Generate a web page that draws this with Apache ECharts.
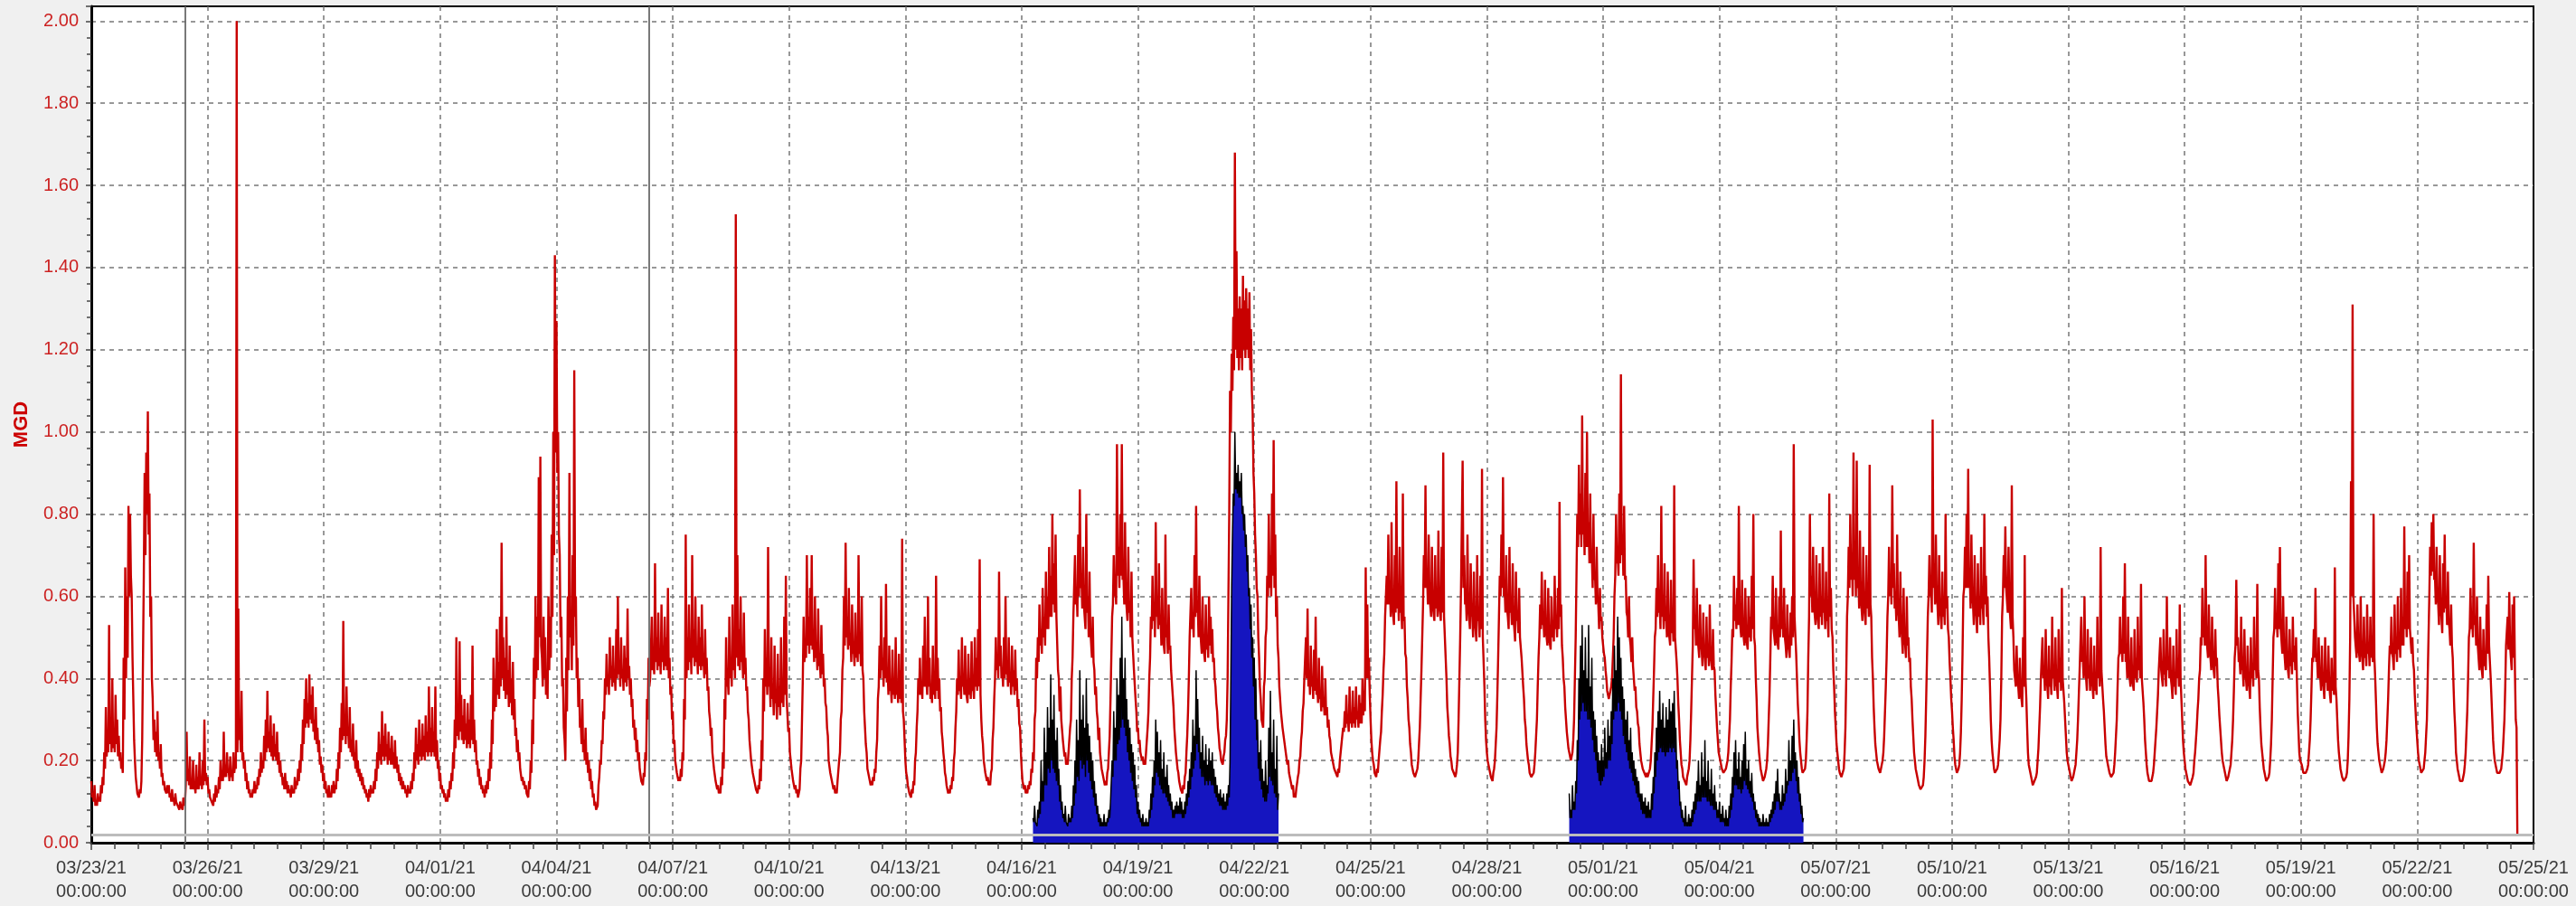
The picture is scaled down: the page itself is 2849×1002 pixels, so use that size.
<!DOCTYPE html>
<html>
<head>
<meta charset="utf-8">
<script src="https://cdn.jsdelivr.net/npm/echarts@6/dist/echarts.min.js"></script>
<style>
html,body{margin:0;padding:0;background:#f0f0f0;}
#chart{width:2849px;height:1002px;}
</style>
</head>
<body>
<div id="chart"></div>
<script>
// ---------------- DATA ----------------
const seriesStart = '03/23/21 00:00';
const xTickLabels = ['03/23/21','03/26/21','03/29/21','04/01/21','04/04/21','04/07/21','04/10/21','04/13/21',
  '04/16/21','04/19/21','04/22/21','04/25/21','04/28/21','05/01/21','05/04/21','05/07/21','05/10/21',
  '05/13/21','05/16/21','05/19/21','05/22/21','05/25/21'];
const xTickTime = '00:00:00';
const yTickLabels = ['0.00','0.20','0.40','0.60','0.80','1.00','1.20','1.40','1.60','1.80','2.00'];
const yAxisName = 'MGD';

// Flow (MGD) readings on the hour, one row per day starting 03/23/21
const flowByDay = [
[0.15,0.12,0.14,0.10,0.12,0.11,0.14,0.16,0.22,0.33,0.25,0.53,0.30,0.40,0.27,0.36,0.30,0.26,0.22,0.19,0.45,0.67,0.60,0.82],
[0.80,0.60,0.35,0.20,0.14,0.12,0.13,0.15,0.45,0.90,0.95,1.05,0.85,0.60,0.35,0.30,0.27,0.32,0.22,0.24,0.17,0.15,0.13,0.14],
[0.14,0.12,0.13,0.11,0.12,0.10,0.09,0.10,0.09,0.11,0.10,0.27,0.18,0.21,0.15,0.20,0.14,0.19,0.16,0.22,0.15,0.20,0.30,0.17],
[0.16,0.13,0.11,0.10,0.12,0.14,0.13,0.16,0.20,0.17,0.27,0.19,0.22,0.18,0.21,0.17,0.22,0.19,2.00,0.57,0.30,0.37,0.22,0.20],
[0.17,0.15,0.13,0.12,0.13,0.15,0.14,0.16,0.18,0.22,0.20,0.26,0.30,0.37,0.27,0.31,0.26,0.29,0.24,0.27,0.22,0.20,0.17,0.16],
[0.17,0.15,0.14,0.13,0.14,0.13,0.16,0.15,0.18,0.20,0.24,0.30,0.35,0.40,0.34,0.41,0.36,0.38,0.30,0.33,0.28,0.25,0.21,0.19],
[0.17,0.15,0.13,0.14,0.12,0.14,0.15,0.14,0.18,0.22,0.28,0.34,0.54,0.30,0.38,0.28,0.33,0.25,0.29,0.22,0.25,0.20,0.18,0.17],
[0.16,0.14,0.13,0.12,0.13,0.14,0.13,0.15,0.18,0.22,0.27,0.24,0.32,0.26,0.29,0.24,0.27,0.23,0.26,0.22,0.25,0.21,0.19,0.17],
[0.16,0.15,0.14,0.13,0.14,0.13,0.15,0.17,0.22,0.28,0.24,0.30,0.25,0.29,0.26,0.31,0.27,0.38,0.28,0.33,0.27,0.38,0.25,0.20],
[0.17,0.14,0.13,0.12,0.11,0.13,0.15,0.17,0.22,0.30,0.50,0.33,0.49,0.36,0.31,0.35,0.29,0.34,0.30,0.36,0.48,0.30,0.25,0.20],
[0.18,0.16,0.14,0.13,0.14,0.15,0.18,0.22,0.30,0.45,0.40,0.52,0.44,0.55,0.73,0.50,0.45,0.55,0.42,0.48,0.40,0.44,0.35,0.28],
[0.25,0.22,0.18,0.16,0.15,0.14,0.12,0.15,0.20,0.30,0.45,0.60,0.55,0.89,0.94,0.45,0.55,0.50,0.40,0.60,0.55,0.75,1.00,1.43],
[1.27,1.00,0.70,0.55,0.40,0.25,0.45,0.60,0.90,0.55,0.70,1.15,0.60,0.45,0.40,0.30,0.35,0.25,0.28,0.22,0.20,0.18,0.15,0.12],
[0.10,0.08,0.14,0.20,0.25,0.32,0.40,0.46,0.40,0.50,0.43,0.48,0.41,0.52,0.60,0.44,0.50,0.42,0.48,0.45,0.57,0.43,0.40,0.35],
[0.30,0.28,0.25,0.22,0.18,0.15,0.17,0.22,0.35,0.45,0.40,0.55,0.45,0.68,0.50,0.56,0.47,0.58,0.48,0.55,0.50,0.62,0.45,0.38],
[0.32,0.25,0.20,0.17,0.16,0.18,0.22,0.35,0.75,0.50,0.58,0.48,0.70,0.52,0.60,0.47,0.55,0.50,0.58,0.45,0.52,0.45,0.38,0.30],
[0.28,0.22,0.18,0.15,0.14,0.13,0.16,0.22,0.35,0.50,0.40,0.55,0.45,0.58,0.48,1.53,0.70,0.52,0.60,0.47,0.56,0.45,0.38,0.30],
[0.25,0.20,0.17,0.15,0.13,0.14,0.18,0.25,0.40,0.52,0.45,0.72,0.40,0.50,0.38,0.48,0.35,0.46,0.38,0.50,0.40,0.55,0.65,0.35],
[0.28,0.22,0.18,0.15,0.14,0.13,0.12,0.18,0.30,0.55,0.48,0.70,0.55,0.62,0.70,0.52,0.60,0.48,0.57,0.45,0.53,0.46,0.40,0.33],
[0.26,0.20,0.17,0.15,0.14,0.13,0.15,0.20,0.30,0.42,0.60,0.73,0.55,0.62,0.50,0.58,0.47,0.56,0.50,0.70,0.48,0.60,0.40,0.28],
[0.22,0.18,0.16,0.15,0.16,0.18,0.22,0.35,0.48,0.60,0.45,0.50,0.63,0.42,0.48,0.38,0.47,0.40,0.50,0.38,0.46,0.42,0.74,0.30],
[0.20,0.16,0.14,0.12,0.13,0.15,0.20,0.28,0.40,0.45,0.38,0.48,0.55,0.40,0.60,0.45,0.38,0.48,0.40,0.65,0.45,0.40,0.33,0.25],
[0.20,0.16,0.14,0.13,0.14,0.16,0.20,0.28,0.40,0.47,0.38,0.50,0.40,0.48,0.37,0.46,0.40,0.49,0.38,0.50,0.45,0.52,0.69,0.30],
[0.24,0.20,0.17,0.16,0.15,0.17,0.25,0.35,0.50,0.45,0.66,0.48,0.42,0.50,0.60,0.44,0.50,0.40,0.48,0.42,0.47,0.40,0.35,0.28],
[0.18,0.15,0.14,0.13,0.14,0.15,0.18,0.22,0.30,0.45,0.50,0.58,0.52,0.62,0.55,0.66,0.60,0.72,0.65,0.80,0.68,0.75,0.55,0.40],
[0.38,0.30,0.25,0.22,0.20,0.22,0.28,0.40,0.55,0.70,0.62,0.75,0.86,0.65,0.72,0.58,0.80,0.60,0.66,0.52,0.55,0.42,0.38,0.30],
[0.28,0.22,0.18,0.16,0.15,0.17,0.22,0.35,0.55,0.70,0.62,0.97,0.72,0.80,0.97,0.65,0.78,0.60,0.72,0.58,0.66,0.50,0.42,0.32],
[0.28,0.25,0.22,0.21,0.20,0.22,0.28,0.40,0.55,0.65,0.58,0.78,0.60,0.68,0.55,0.62,0.50,0.75,0.52,0.58,0.48,0.42,0.33,0.25],
[0.22,0.17,0.14,0.13,0.14,0.16,0.22,0.32,0.50,0.62,0.55,0.70,0.82,0.58,0.65,0.52,0.60,0.48,0.58,0.50,0.60,0.55,0.52,0.45],
[0.38,0.32,0.26,0.22,0.20,0.21,0.25,0.30,0.60,1.10,1.19,1.28,1.68,1.44,1.30,1.33,1.30,1.38,1.32,1.35,1.30,1.34,1.25,1.05],
[0.85,0.70,0.60,0.45,0.35,0.30,0.38,0.50,0.65,0.80,0.70,0.85,0.98,0.75,0.60,0.45,0.38,0.32,0.28,0.25,0.22,0.20,0.17,0.15],
[0.14,0.12,0.13,0.16,0.20,0.25,0.32,0.40,0.50,0.57,0.42,0.48,0.40,0.47,0.55,0.38,0.45,0.36,0.43,0.35,0.40,0.33,0.30,0.25],
[0.22,0.19,0.18,0.17,0.18,0.20,0.24,0.28,0.32,0.36,0.30,0.38,0.31,0.37,0.33,0.38,0.32,0.36,0.34,0.40,0.37,0.67,0.58,0.45],
[0.30,0.22,0.19,0.17,0.18,0.20,0.25,0.32,0.42,0.55,0.65,0.75,0.62,0.78,0.58,0.70,0.88,0.62,0.72,0.58,0.85,0.55,0.45,0.35],
[0.28,0.22,0.18,0.17,0.16,0.18,0.24,0.35,0.50,0.70,0.87,0.65,0.75,0.60,0.72,0.58,0.70,0.62,0.76,0.58,0.72,0.95,0.55,0.40],
[0.30,0.24,0.20,0.18,0.17,0.17,0.22,0.40,0.62,0.93,0.70,0.60,0.75,0.58,0.68,0.55,0.66,0.52,0.70,0.55,0.65,0.91,0.50,0.30],
[0.22,0.19,0.17,0.16,0.17,0.20,0.28,0.45,0.65,0.75,0.89,0.62,0.70,0.55,0.72,0.58,0.68,0.52,0.66,0.56,0.62,0.50,0.45,0.35],
[0.28,0.22,0.19,0.17,0.16,0.17,0.22,0.30,0.45,0.58,0.66,0.55,0.64,0.52,0.62,0.50,0.60,0.54,0.65,0.55,0.62,0.83,0.58,0.45],
[0.38,0.30,0.25,0.22,0.20,0.22,0.30,0.50,0.80,0.92,0.85,1.04,0.80,0.90,1.00,0.78,0.85,0.70,0.80,0.65,0.72,0.58,0.62,0.55],
[0.50,0.45,0.40,0.36,0.35,0.38,0.45,0.60,0.80,0.70,0.85,1.14,0.75,0.82,0.65,0.55,0.60,0.48,0.50,0.40,0.38,0.32,0.28,0.22],
[0.20,0.18,0.17,0.17,0.16,0.18,0.24,0.35,0.50,0.62,0.70,0.58,0.82,0.60,0.68,0.55,0.66,0.52,0.64,0.55,0.87,0.50,0.40,0.30],
[0.22,0.18,0.16,0.15,0.16,0.18,0.25,0.40,0.69,0.55,0.62,0.50,0.58,0.47,0.56,0.45,0.55,0.48,0.58,0.46,0.52,0.42,0.32,0.25],
[0.22,0.19,0.18,0.17,0.18,0.20,0.26,0.38,0.52,0.65,0.58,0.62,0.82,0.55,0.64,0.52,0.62,0.50,0.60,0.55,0.65,0.80,0.48,0.35],
[0.25,0.20,0.17,0.15,0.16,0.18,0.24,0.36,0.55,0.65,0.52,0.62,0.50,0.60,0.76,0.55,0.62,0.48,0.58,0.47,0.56,0.60,0.97,0.55],
[0.40,0.30,0.22,0.18,0.17,0.18,0.25,0.45,0.80,0.65,0.72,0.58,0.70,0.56,0.68,0.60,0.72,0.58,0.66,0.55,0.85,0.62,0.50,0.38],
[0.28,0.22,0.18,0.17,0.16,0.18,0.28,0.55,0.72,0.80,0.70,0.95,0.72,0.93,0.65,0.76,0.60,0.72,0.58,0.70,0.62,0.92,0.55,0.40],
[0.28,0.22,0.19,0.18,0.18,0.20,0.26,0.38,0.55,0.72,0.65,0.87,0.68,0.60,0.75,0.55,0.66,0.50,0.62,0.48,0.60,0.50,0.45,0.35],
[0.26,0.20,0.17,0.15,0.14,0.13,0.14,0.20,0.35,0.55,0.70,0.62,1.03,0.68,0.75,0.58,0.70,0.55,0.66,0.58,0.80,0.60,0.50,0.40],
[0.32,0.25,0.19,0.17,0.18,0.22,0.35,0.60,0.72,0.80,0.91,0.65,0.75,0.58,0.70,0.55,0.68,0.60,0.72,0.58,0.80,0.65,0.60,0.45],
[0.30,0.22,0.18,0.17,0.18,0.22,0.30,0.55,0.70,0.77,0.62,0.72,0.58,0.87,0.50,0.42,0.48,0.38,0.45,0.35,0.50,0.70,0.35,0.22],
[0.18,0.16,0.14,0.15,0.16,0.20,0.28,0.40,0.50,0.42,0.52,0.38,0.48,0.40,0.55,0.42,0.50,0.38,0.52,0.45,0.62,0.40,0.30,0.22],
[0.20,0.17,0.15,0.16,0.18,0.22,0.30,0.42,0.55,0.45,0.60,0.40,0.52,0.42,0.50,0.38,0.48,0.40,0.55,0.45,0.72,0.42,0.32,0.24],
[0.20,0.18,0.17,0.16,0.17,0.22,0.30,0.45,0.55,0.48,0.60,0.68,0.45,0.55,0.42,0.50,0.40,0.52,0.45,0.55,0.48,0.63,0.40,0.30],
[0.22,0.17,0.15,0.15,0.16,0.19,0.25,0.32,0.42,0.50,0.40,0.52,0.42,0.60,0.45,0.50,0.38,0.48,0.40,0.52,0.45,0.58,0.35,0.25],
[0.20,0.17,0.15,0.15,0.14,0.16,0.20,0.25,0.32,0.40,0.50,0.62,0.55,0.70,0.50,0.58,0.45,0.55,0.42,0.52,0.45,0.35,0.28,0.22],
[0.20,0.17,0.15,0.16,0.18,0.22,0.30,0.45,0.64,0.50,0.45,0.55,0.42,0.52,0.40,0.48,0.38,0.50,0.42,0.55,0.45,0.63,0.40,0.28],
[0.22,0.18,0.16,0.15,0.16,0.20,0.30,0.50,0.62,0.55,0.68,0.72,0.52,0.60,0.45,0.55,0.42,0.52,0.45,0.55,0.48,0.50,0.32,0.22],
[0.20,0.18,0.17,0.17,0.18,0.22,0.30,0.45,0.52,0.62,0.45,0.50,0.40,0.48,0.38,0.50,0.42,0.48,0.36,0.45,0.40,0.67,0.35,0.25],
[0.20,0.17,0.16,0.15,0.16,0.20,0.35,0.88,1.31,0.60,0.50,0.58,0.48,0.60,0.45,0.55,0.47,0.58,0.48,0.55,0.50,0.80,0.40,0.28],
[0.22,0.19,0.17,0.18,0.20,0.25,0.35,0.48,0.55,0.45,0.58,0.48,0.60,0.50,0.62,0.55,0.77,0.58,0.66,0.70,0.52,0.50,0.42,0.32],
[0.25,0.20,0.18,0.17,0.18,0.22,0.30,0.50,0.72,0.78,0.80,0.65,0.72,0.58,0.70,0.55,0.68,0.75,0.60,0.66,0.52,0.58,0.45,0.32],
[0.22,0.18,0.16,0.15,0.15,0.17,0.22,0.32,0.50,0.62,0.55,0.73,0.55,0.60,0.45,0.55,0.42,0.52,0.45,0.58,0.65,0.48,0.35,0.25],
[0.20,0.18,0.17,0.17,0.18,0.22,0.30,0.48,0.55,0.61,0.45,0.58,0.60,0.30,0.02]
];

// Flow (MGD) readings on the half hour (hh:30), one row per day
const flowHalfByDay = [
[0.11,0.10,0.09,0.09,0.10,0.10,0.12,0.14,0.18,0.21,0.22,0.24,0.22,0.23,0.22,0.24,0.21,0.20,0.18,0.17,0.30,0.40,0.45,0.60],
[0.65,0.45,0.25,0.16,0.12,0.11,0.12,0.25,0.65,0.70,0.80,0.75,0.55,0.40,0.25,0.22,0.21,0.20,0.18,0.16,0.14,0.13,0.12,0.12],
[0.11,0.10,0.10,0.09,0.10,0.09,0.08,0.09,0.08,0.09,0.14,0.15,0.14,0.13,0.13,0.13,0.12,0.13,0.13,0.14,0.13,0.14,0.15,0.14],
[0.12,0.11,0.10,0.09,0.10,0.11,0.12,0.13,0.15,0.15,0.16,0.16,0.17,0.15,0.16,0.15,0.17,0.18,0.22,0.25,0.22,0.20,0.18,0.15],
[0.13,0.12,0.11,0.11,0.12,0.12,0.13,0.14,0.16,0.17,0.18,0.20,0.22,0.23,0.22,0.21,0.20,0.21,0.20,0.19,0.17,0.16,0.14,0.13],
[0.13,0.12,0.12,0.11,0.12,0.12,0.13,0.14,0.15,0.17,0.20,0.24,0.28,0.29,0.28,0.30,0.29,0.27,0.25,0.24,0.22,0.19,0.17,0.15],
[0.13,0.12,0.11,0.11,0.11,0.12,0.12,0.13,0.15,0.18,0.22,0.25,0.26,0.24,0.26,0.23,0.22,0.21,0.20,0.18,0.17,0.16,0.15,0.14],
[0.13,0.12,0.11,0.10,0.11,0.12,0.12,0.13,0.15,0.18,0.20,0.19,0.21,0.20,0.21,0.19,0.20,0.19,0.19,0.18,0.18,0.17,0.15,0.14],
[0.13,0.13,0.12,0.11,0.12,0.12,0.13,0.15,0.18,0.20,0.19,0.21,0.20,0.21,0.20,0.22,0.21,0.22,0.21,0.22,0.21,0.20,0.18,0.15],
[0.13,0.12,0.11,0.10,0.10,0.11,0.13,0.15,0.18,0.23,0.26,0.25,0.27,0.25,0.24,0.25,0.23,0.24,0.23,0.25,0.24,0.22,0.19,0.16],
[0.14,0.13,0.12,0.11,0.12,0.13,0.15,0.18,0.24,0.32,0.33,0.36,0.35,0.38,0.40,0.37,0.35,0.36,0.33,0.34,0.31,0.30,0.26,0.22],
[0.20,0.18,0.15,0.14,0.13,0.12,0.11,0.13,0.17,0.24,0.35,0.40,0.42,0.50,0.48,0.38,0.40,0.36,0.35,0.42,0.45,0.55,0.70,0.95],
[0.90,0.75,0.50,0.38,0.28,0.20,0.32,0.42,0.50,0.42,0.48,0.55,0.40,0.33,0.28,0.24,0.22,0.20,0.19,0.17,0.15,0.13,0.11,0.09],
[0.08,0.09,0.16,0.19,0.24,0.30,0.36,0.38,0.36,0.40,0.38,0.39,0.37,0.40,0.41,0.38,0.40,0.37,0.39,0.38,0.40,0.36,0.33,0.28],
[0.25,0.22,0.20,0.18,0.15,0.14,0.16,0.20,0.30,0.38,0.40,0.42,0.41,0.44,0.42,0.43,0.41,0.44,0.42,0.43,0.42,0.40,0.36,0.30],
[0.24,0.20,0.17,0.15,0.15,0.16,0.20,0.30,0.40,0.42,0.44,0.41,0.45,0.43,0.44,0.41,0.43,0.42,0.43,0.40,0.41,0.37,0.32,0.26],
[0.22,0.18,0.15,0.13,0.12,0.12,0.14,0.18,0.30,0.38,0.36,0.40,0.38,0.42,0.40,0.45,0.43,0.42,0.44,0.40,0.41,0.37,0.32,0.25],
[0.20,0.17,0.15,0.13,0.12,0.13,0.15,0.20,0.32,0.38,0.36,0.38,0.33,0.35,0.31,0.34,0.30,0.33,0.31,0.34,0.33,0.36,0.35,0.27],
[0.22,0.18,0.15,0.13,0.12,0.11,0.13,0.20,0.40,0.44,0.45,0.48,0.46,0.48,0.47,0.44,0.45,0.42,0.43,0.40,0.41,0.38,0.34,0.28],
[0.20,0.17,0.15,0.13,0.12,0.12,0.15,0.22,0.32,0.45,0.48,0.50,0.47,0.48,0.44,0.46,0.43,0.45,0.44,0.46,0.43,0.42,0.32,0.24],
[0.18,0.16,0.14,0.14,0.15,0.17,0.25,0.38,0.40,0.42,0.38,0.40,0.39,0.36,0.37,0.34,0.36,0.35,0.36,0.34,0.35,0.34,0.32,0.25],
[0.17,0.14,0.12,0.11,0.12,0.14,0.22,0.32,0.36,0.36,0.35,0.38,0.38,0.36,0.38,0.35,0.34,0.36,0.35,0.37,0.35,0.32,0.27,0.22],
[0.17,0.14,0.12,0.12,0.13,0.15,0.22,0.32,0.36,0.37,0.35,0.38,0.36,0.37,0.34,0.36,0.35,0.37,0.35,0.38,0.37,0.38,0.36,0.26],
[0.20,0.17,0.15,0.14,0.14,0.18,0.28,0.40,0.42,0.40,0.43,0.40,0.38,0.40,0.41,0.38,0.39,0.36,0.38,0.36,0.37,0.33,0.29,0.22],
[0.15,0.13,0.12,0.12,0.13,0.14,0.17,0.20,0.32,0.40,0.44,0.48,0.46,0.50,0.48,0.52,0.52,0.55,0.55,0.58,0.56,0.55,0.42,0.32],
[0.30,0.25,0.21,0.19,0.19,0.22,0.30,0.45,0.55,0.58,0.55,0.60,0.62,0.57,0.58,0.52,0.56,0.50,0.52,0.45,0.44,0.36,0.32,0.25],
[0.22,0.18,0.16,0.14,0.14,0.18,0.26,0.45,0.58,0.60,0.58,0.65,0.62,0.65,0.64,0.58,0.60,0.54,0.56,0.50,0.50,0.42,0.35,0.27],
[0.24,0.22,0.20,0.19,0.19,0.22,0.32,0.45,0.52,0.54,0.50,0.55,0.52,0.53,0.48,0.50,0.46,0.50,0.46,0.47,0.42,0.36,0.28,0.22],
[0.18,0.15,0.13,0.12,0.13,0.17,0.26,0.40,0.50,0.52,0.50,0.55,0.56,0.50,0.52,0.46,0.48,0.44,0.47,0.45,0.48,0.46,0.44,0.40],
[0.34,0.28,0.23,0.20,0.19,0.22,0.26,0.40,0.80,1.00,1.10,1.15,1.20,1.18,1.15,1.18,1.15,1.20,1.18,1.20,1.18,1.15,1.10,0.90],
[0.75,0.62,0.50,0.38,0.30,0.28,0.40,0.52,0.60,0.62,0.60,0.65,0.62,0.55,0.48,0.38,0.32,0.28,0.25,0.22,0.19,0.17,0.15,0.13],
[0.11,0.11,0.13,0.17,0.21,0.27,0.34,0.40,0.40,0.38,0.36,0.38,0.35,0.37,0.36,0.34,0.35,0.32,0.33,0.31,0.31,0.28,0.26,0.22],
[0.20,0.18,0.17,0.16,0.17,0.20,0.24,0.27,0.28,0.29,0.27,0.29,0.28,0.29,0.28,0.30,0.28,0.29,0.29,0.31,0.32,0.40,0.40,0.36],
[0.25,0.20,0.17,0.16,0.17,0.20,0.27,0.36,0.46,0.55,0.58,0.58,0.55,0.58,0.53,0.56,0.57,0.54,0.56,0.52,0.54,0.46,0.38,0.30],
[0.24,0.19,0.17,0.16,0.16,0.20,0.28,0.42,0.58,0.62,0.62,0.58,0.60,0.55,0.58,0.54,0.57,0.55,0.58,0.54,0.56,0.55,0.45,0.33],
[0.26,0.21,0.18,0.17,0.16,0.19,0.30,0.50,0.62,0.62,0.58,0.54,0.58,0.52,0.56,0.50,0.54,0.49,0.54,0.50,0.52,0.50,0.38,0.25],
[0.20,0.18,0.16,0.15,0.18,0.24,0.36,0.55,0.60,0.62,0.60,0.56,0.57,0.52,0.56,0.53,0.55,0.49,0.54,0.51,0.50,0.45,0.38,0.30],
[0.24,0.20,0.17,0.16,0.16,0.19,0.26,0.38,0.50,0.52,0.53,0.50,0.52,0.48,0.50,0.47,0.50,0.49,0.52,0.50,0.52,0.55,0.48,0.40],
[0.33,0.27,0.23,0.21,0.20,0.25,0.40,0.65,0.72,0.75,0.72,0.75,0.70,0.72,0.72,0.68,0.68,0.62,0.64,0.58,0.60,0.52,0.54,0.50],
[0.46,0.42,0.37,0.35,0.35,0.40,0.50,0.65,0.68,0.65,0.68,0.70,0.65,0.64,0.56,0.50,0.50,0.44,0.43,0.37,0.33,0.29,0.24,0.20],
[0.18,0.17,0.16,0.16,0.16,0.20,0.28,0.42,0.52,0.55,0.56,0.52,0.55,0.52,0.54,0.50,0.52,0.48,0.51,0.49,0.50,0.44,0.34,0.25],
[0.19,0.16,0.15,0.14,0.16,0.20,0.32,0.48,0.52,0.48,0.50,0.45,0.48,0.43,0.46,0.42,0.45,0.43,0.46,0.42,0.43,0.36,0.28,0.22],
[0.20,0.18,0.17,0.17,0.18,0.22,0.30,0.44,0.50,0.54,0.52,0.53,0.55,0.50,0.52,0.48,0.50,0.47,0.50,0.49,0.52,0.50,0.40,0.28],
[0.22,0.18,0.16,0.15,0.16,0.20,0.30,0.45,0.52,0.52,0.48,0.50,0.47,0.50,0.52,0.50,0.50,0.45,0.48,0.45,0.48,0.50,0.55,0.46],
[0.34,0.25,0.20,0.17,0.17,0.20,0.32,0.55,0.60,0.56,0.58,0.53,0.56,0.52,0.55,0.53,0.56,0.52,0.54,0.50,0.55,0.52,0.42,0.32],
[0.24,0.20,0.17,0.16,0.16,0.22,0.40,0.60,0.62,0.64,0.60,0.64,0.60,0.62,0.57,0.60,0.54,0.58,0.53,0.57,0.55,0.58,0.45,0.33],
[0.24,0.20,0.18,0.17,0.18,0.22,0.32,0.45,0.60,0.60,0.58,0.62,0.57,0.54,0.57,0.50,0.54,0.46,0.50,0.45,0.48,0.44,0.38,0.30],
[0.22,0.18,0.16,0.14,0.13,0.13,0.16,0.26,0.45,0.60,0.60,0.56,0.62,0.58,0.60,0.53,0.57,0.52,0.55,0.53,0.57,0.52,0.44,0.35],
[0.28,0.21,0.18,0.17,0.19,0.27,0.46,0.62,0.62,0.62,0.62,0.57,0.60,0.53,0.57,0.51,0.55,0.53,0.57,0.53,0.58,0.55,0.50,0.38],
[0.25,0.20,0.17,0.17,0.19,0.25,0.40,0.60,0.62,0.62,0.56,0.58,0.52,0.55,0.42,0.38,0.40,0.35,0.37,0.33,0.38,0.40,0.28,0.19],
[0.17,0.15,0.14,0.15,0.17,0.23,0.33,0.40,0.40,0.37,0.40,0.35,0.38,0.36,0.40,0.37,0.39,0.35,0.39,0.37,0.40,0.34,0.26,0.20],
[0.18,0.16,0.15,0.16,0.19,0.25,0.36,0.42,0.44,0.40,0.43,0.37,0.40,0.37,0.39,0.35,0.37,0.36,0.40,0.38,0.42,0.35,0.28,0.21],
[0.19,0.17,0.16,0.16,0.19,0.26,0.38,0.46,0.46,0.44,0.46,0.44,0.40,0.42,0.38,0.40,0.37,0.40,0.39,0.42,0.40,0.40,0.34,0.25],
[0.19,0.16,0.15,0.15,0.17,0.22,0.28,0.36,0.42,0.42,0.38,0.41,0.38,0.42,0.40,0.40,0.35,0.38,0.36,0.40,0.38,0.40,0.30,0.22],
[0.18,0.16,0.15,0.14,0.14,0.17,0.22,0.28,0.35,0.42,0.48,0.50,0.48,0.50,0.45,0.47,0.42,0.45,0.40,0.43,0.38,0.31,0.25,0.20],
[0.18,0.16,0.15,0.16,0.19,0.25,0.37,0.48,0.48,0.44,0.41,0.43,0.38,0.41,0.37,0.39,0.35,0.40,0.38,0.42,0.40,0.42,0.33,0.24],
[0.20,0.17,0.15,0.15,0.17,0.24,0.40,0.52,0.52,0.50,0.52,0.52,0.46,0.48,0.42,0.45,0.40,0.43,0.41,0.44,0.42,0.40,0.27,0.20],
[0.19,0.17,0.17,0.17,0.19,0.25,0.37,0.44,0.45,0.44,0.40,0.41,0.37,0.39,0.35,0.39,0.37,0.39,0.34,0.37,0.36,0.38,0.30,0.22],
[0.18,0.16,0.15,0.15,0.17,0.26,0.50,0.60,0.60,0.50,0.45,0.48,0.44,0.47,0.42,0.45,0.43,0.46,0.43,0.45,0.44,0.45,0.34,0.24],
[0.20,0.18,0.17,0.19,0.22,0.30,0.42,0.46,0.46,0.42,0.46,0.44,0.47,0.45,0.48,0.48,0.52,0.50,0.52,0.52,0.46,0.44,0.36,0.28],
[0.22,0.19,0.17,0.17,0.20,0.26,0.40,0.60,0.65,0.66,0.64,0.58,0.60,0.53,0.57,0.51,0.56,0.57,0.53,0.54,0.48,0.48,0.38,0.28],
[0.20,0.17,0.15,0.15,0.16,0.19,0.27,0.40,0.52,0.52,0.50,0.53,0.48,0.48,0.42,0.45,0.40,0.43,0.42,0.46,0.48,0.40,0.30,0.22],
[0.19,0.17,0.17,0.17,0.20,0.26,0.38,0.48,0.47,0.48,0.42,0.45,0.42,0.28]
];

// Second (blue) series: readings on the hour and on the half hour, two recorded periods
const blueAStart = '04/16/21 07:00';
const blueA = [
0.06,0.09,0.05,0.08,0.10,0.20,0.15,0.28,0.22,0.33,0.28,0.41,0.30,0.36,0.25,0.28,0.18,
0.14,0.10,0.07,0.09,0.05,0.07,0.06,0.09,0.14,0.20,0.30,0.25,0.42,0.30,0.36,0.28,0.40,0.29,0.26,0.22,0.20,0.15,0.12,0.09,
0.07,0.06,0.05,0.07,0.05,0.06,0.08,0.10,0.20,0.32,0.28,0.40,0.36,0.45,0.55,0.40,0.45,0.35,0.30,0.28,0.24,0.22,0.19,0.14,
0.10,0.08,0.06,0.07,0.05,0.06,0.05,0.08,0.12,0.16,0.20,0.30,0.27,0.22,0.25,0.18,0.22,0.16,0.19,0.14,0.12,0.10,0.08,0.09,
0.10,0.09,0.11,0.10,0.08,0.10,0.12,0.15,0.18,0.22,0.30,0.26,0.42,0.35,0.28,0.22,0.26,0.20,0.24,0.19,0.23,0.20,0.22,0.18,
0.16,0.14,0.12,0.13,0.11,0.12,0.10,0.12,0.14,0.20,0.62,0.85,1.00,0.90,0.92,0.88,0.90,0.82,0.80,0.75,0.70,0.62,0.58,0.50,
0.45,0.40,0.30,0.22,0.25,0.18,0.15,0.20,0.14,0.28,0.37,0.22,0.30,0.18,0.26,0.12
];
const blueAHalf = [
0.05,0.05,0.04,0.06,0.07,0.10,0.10,0.14,0.14,0.18,0.17,0.20,0.18,0.17,0.15,0.14,0.10,
0.08,0.06,0.05,0.05,0.04,0.05,0.05,0.06,0.09,0.12,0.16,0.15,0.20,0.18,0.19,0.16,0.20,0.17,0.15,0.13,0.11,0.09,0.07,0.05,
0.04,0.04,0.04,0.04,0.04,0.05,0.06,0.10,0.16,0.20,0.20,0.24,0.25,0.28,0.30,0.28,0.26,0.22,0.20,0.17,0.15,0.13,0.11,0.07,
0.06,0.05,0.04,0.04,0.04,0.04,0.04,0.06,0.08,0.11,0.14,0.17,0.16,0.14,0.13,0.12,0.12,0.11,0.10,0.09,0.08,0.06,0.06,0.07,
0.07,0.07,0.07,0.06,0.06,0.07,0.09,0.11,0.13,0.16,0.18,0.20,0.24,0.22,0.18,0.16,0.16,0.14,0.15,0.14,0.15,0.14,0.14,0.12,
0.11,0.10,0.09,0.09,0.08,0.08,0.08,0.09,0.11,0.40,0.75,0.82,0.86,0.85,0.84,0.84,0.80,0.76,0.72,0.66,0.60,0.52,0.45,0.38,
0.30,0.25,0.18,0.15,0.13,0.11,0.10,0.10,0.12,0.16,0.15,0.14,0.12,0.11,0.08
];
const blueBStart = '04/30/21 03:00';
const blueB = [
0.12,0.08,0.14,0.10,0.15,0.25,0.40,0.48,0.53,0.42,0.50,0.40,0.53,0.38,0.45,0.32,0.30,0.26,0.22,0.20,0.24,
0.20,0.28,0.22,0.30,0.26,0.32,0.40,0.48,0.42,0.55,0.50,0.45,0.38,0.35,0.30,0.32,0.25,0.28,0.22,0.20,0.18,0.16,0.15,0.12,
0.12,0.10,0.11,0.09,0.10,0.08,0.12,0.16,0.22,0.28,0.32,0.37,0.30,0.34,0.28,0.33,0.30,0.35,0.32,0.34,0.37,0.28,0.20,0.15,
0.10,0.08,0.06,0.09,0.05,0.07,0.06,0.08,0.10,0.12,0.15,0.20,0.14,0.22,0.16,0.25,0.15,0.20,0.13,0.18,0.12,0.14,0.10,0.08,
0.10,0.07,0.09,0.06,0.08,0.06,0.09,0.12,0.16,0.22,0.25,0.18,0.22,0.16,0.20,0.24,0.27,0.18,0.20,0.15,0.17,0.12,0.10,0.08,
0.07,0.06,0.05,0.07,0.05,0.06,0.05,0.07,0.08,0.10,0.12,0.15,0.18,0.12,0.10,0.14,0.12,0.18,0.15,0.25,0.20,0.26,0.30,0.22,
0.20,0.16,0.12,0.09,0.06
];
const blueBHalf = [
0.06,0.06,0.08,0.08,0.12,0.20,0.30,0.32,0.34,0.32,0.32,0.30,0.30,0.28,0.25,0.22,0.20,0.17,0.15,0.14,0.15,
0.16,0.18,0.18,0.20,0.20,0.24,0.30,0.32,0.32,0.34,0.32,0.30,0.26,0.24,0.22,0.20,0.18,0.17,0.15,0.14,0.12,0.11,0.10,0.08,
0.07,0.07,0.06,0.06,0.06,0.06,0.08,0.12,0.16,0.20,0.22,0.23,0.22,0.22,0.21,0.22,0.22,0.23,0.22,0.23,0.22,0.18,0.13,0.09,
0.06,0.05,0.04,0.04,0.04,0.04,0.04,0.05,0.07,0.08,0.10,0.10,0.10,0.11,0.11,0.11,0.10,0.10,0.09,0.09,0.08,0.08,0.06,0.06,
0.05,0.05,0.05,0.04,0.04,0.04,0.06,0.08,0.11,0.14,0.14,0.13,0.13,0.12,0.13,0.15,0.14,0.13,0.12,0.11,0.10,0.08,0.06,0.05,
0.04,0.04,0.04,0.04,0.04,0.04,0.04,0.05,0.06,0.07,0.08,0.10,0.10,0.08,0.08,0.09,0.10,0.12,0.14,0.15,0.15,0.17,0.18,0.15,
0.12,0.10,0.07,0.05
];

// Event markers (solid vertical lines) and reference level
const eventMarkers = ['03/25/21 10:20', '04/06/21 09:20'];
const referenceLevel = 0.018;

// ---------------- BUILD ----------------
function hoursFrom(s) {
  const parts = s.split(' ');
  const d = parts[0].split('/').map(Number);
  const t = parts[1].split(':').map(Number);
  const s0 = seriesStart.split(' ')[0].split('/').map(Number);
  const base = Date.UTC(2000 + s0[2], s0[0] - 1, s0[1]);
  return (Date.UTC(2000 + d[2], d[0] - 1, d[1], t[0], t[1]) - base) / 3600000;
}
const HOURS_PER_TICK = 72;
const flowPoints = [];
flowByDay.forEach((day, di) => {
  const half = flowHalfByDay[di] || [];
  day.forEach((v, h) => {
    flowPoints.push([di * 24 + h, v]);
    if (half[h] !== undefined) flowPoints.push([di * 24 + h + 0.5, half[h]]);
  });
});
function seg(start, vals, halves) {
  const s = hoursFrom(start);
  const out = [];
  vals.forEach((v, i) => {
    out.push([s + i, v]);
    if (halves[i] !== undefined) out.push([s + i + 0.5, halves[i]]);
  });
  return out;
}
const bluePoints = seg(blueAStart, blueA, blueAHalf)
  .concat([[hoursFrom(blueAStart) + blueA.length, null]])
  .concat(seg(blueBStart, blueB, blueBHalf));

const FONT = 'Liberation Sans, Arial, sans-serif';
const chart = echarts.init(document.getElementById('chart'), null, {renderer: 'canvas'});
chart.setOption({
  animation: false,
  backgroundColor: '#f0f0f0',
  grid: {left: 101, right: 47, top: 7, bottom: 70, show: true, backgroundColor: '#ffffff', borderColor: '#000000', borderWidth: 2},
  xAxis: {
    type: 'value', min: 0, max: (xTickLabels.length - 1) * HOURS_PER_TICK, interval: HOURS_PER_TICK,
    axisLine: {show: true, onZero: false, lineStyle: {color: '#000', width: 3}},
    axisTick: {show: true, length: 8, lineStyle: {color: '#444', width: 1.5}},
    minorTick: {show: true, splitNumber: 5, length: 7, lineStyle: {color: '#444', width: 1.5}},
    minorSplitLine: {show: false},
    axisLabel: {
      margin: 15, color: '#3a3a3a', fontSize: 20, lineHeight: 26, fontFamily: FONT,
      formatter: function (v) { const i = Math.round(v / HOURS_PER_TICK); return (xTickLabels[i] || '') + '\n' + xTickTime; }
    },
    splitLine: {show: true, showMinLine: false, showMaxLine: false, lineStyle: {color: '#777', width: 1.5, type: [5, 5]}}
  },
  yAxis: {
    type: 'value', min: 0, max: 2.036, interval: 0.2,
    name: yAxisName, nameLocation: 'middle', nameGap: 66, nameRotate: 90,
    nameTextStyle: {color: '#cc0000', fontWeight: 'bold', fontSize: 22, fontFamily: FONT},
    axisLine: {show: true, lineStyle: {color: '#000', width: 3}},
    axisTick: {show: true, length: 6, lineStyle: {color: '#444', width: 1.5}},
    minorTick: {show: true, splitNumber: 5, length: 5, lineStyle: {color: '#444', width: 1.5}},
    minorSplitLine: {show: false},
    axisLabel: {
      margin: 14, color: '#cc2222', fontSize: 20, fontFamily: FONT, showMaxLabel: false,
      formatter: function (v) { const i = Math.round(v / 0.2); return Math.abs(i * 0.2 - v) < 1e-6 ? (yTickLabels[i] || '') : ''; }
    },
    splitLine: {show: true, showMinLine: false, showMaxLine: false, lineStyle: {color: '#777', width: 1.5, type: [5, 5]}}
  },
  series: [
    {
      name: 'Flow', type: 'line', data: flowPoints, showSymbol: false, symbol: 'none', z: 2,
      lineStyle: {color: '#c80000', width: 2.4, join: 'bevel'}
    },
    {
      name: 'Secondary', type: 'line', data: bluePoints, showSymbol: false, symbol: 'none', z: 3, connectNulls: false,
      lineStyle: {color: '#000000', width: 1.5, join: 'bevel'}, areaStyle: {color: '#1515c0', opacity: 1}
    },
    {
      name: 'Markers', type: 'line', data: [], z: 6, silent: true,
      markLine: {
        silent: true, symbol: 'none', animation: false, label: {show: false},
        data: eventMarkers.map(s => ({xAxis: hoursFrom(s), lineStyle: {color: '#6a6a6a', width: 1.8, type: 'solid'}}))
          .concat([{yAxis: referenceLevel, lineStyle: {color: '#bcbcbc', width: 3, type: 'solid'}}])
      }
    }
  ]
});
</script>
</body>
</html>
